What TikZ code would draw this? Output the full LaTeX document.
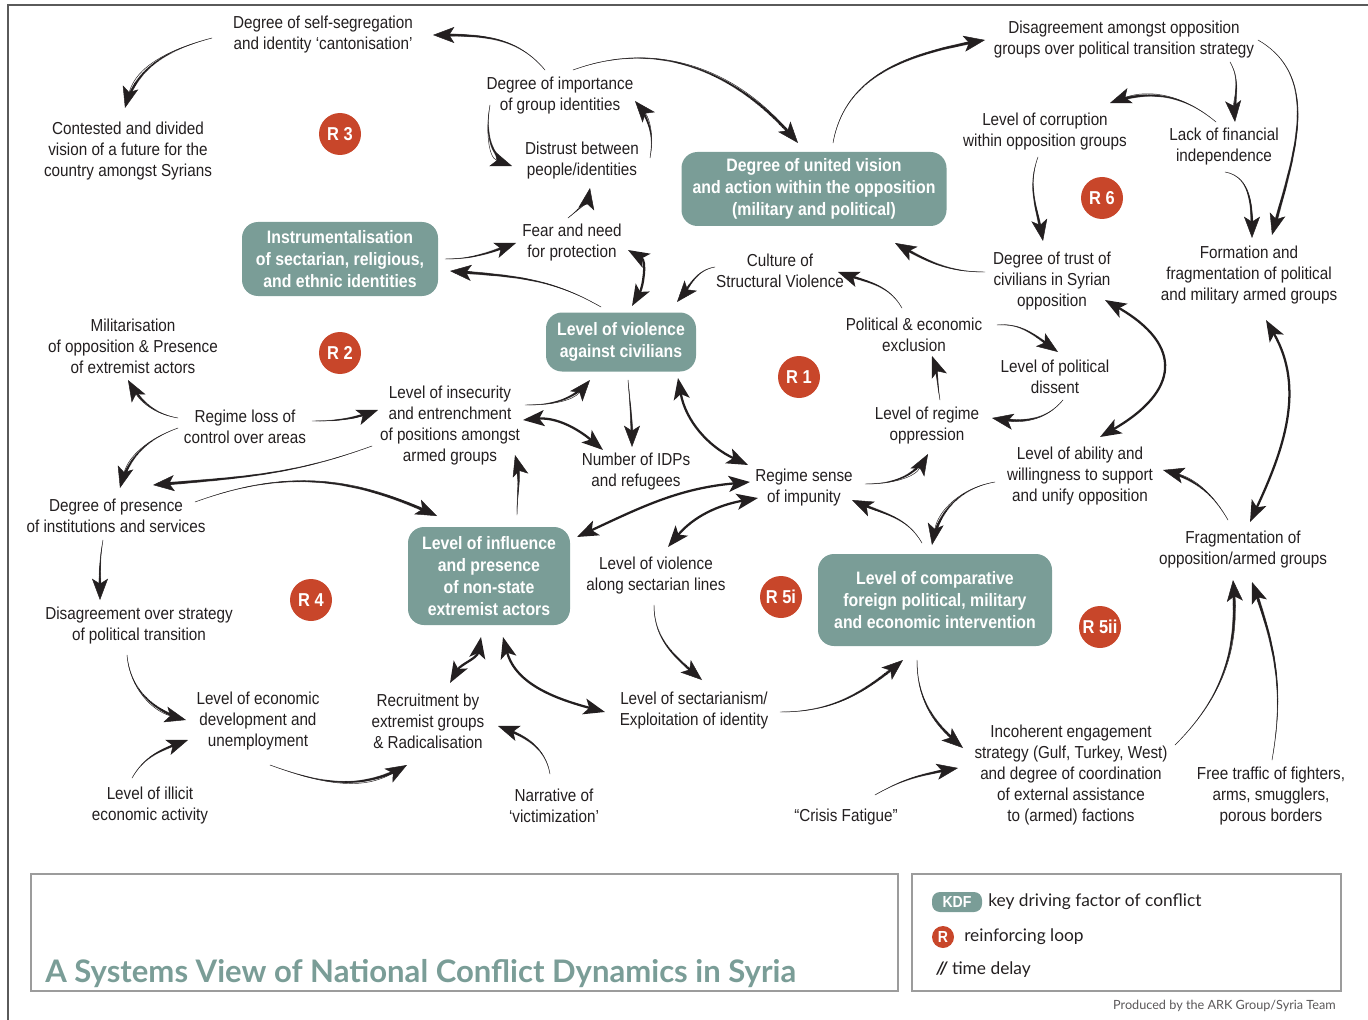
\documentclass[tikz,border=0pt]{standalone}
\usepackage{fontspec}
\setmainfont{Liberation Sans}[FakeStretch=0.88]
\newfontfamily\legfont{Lato}
\usetikzlibrary{arrows.meta,decorations.markings,calc}
\definecolor{kdf}{HTML}{7A9D97}
\definecolor{rred}{HTML}{C8462A}
\definecolor{ink}{HTML}{231F20}
\definecolor{boxgrey}{HTML}{9C9C9C}
\definecolor{framegrey}{HTML}{5A5A5A}
\newcommand\lblfont{\fontsize{13}{15.75}\selectfont}
\newcommand\kdffont{\fontsize{13.5}{16.5}\selectfont\bfseries}
\newcommand\rfont{\fontsize{14}{14}\selectfont\bfseries}
\tikzset{
  lbl/.style={align=center, font=\lblfont, text=ink, inner sep=1pt},
  kdfbox/.style={rounded corners=12pt, fill=kdf, text=white, align=center, font=\kdffont, inner sep=2pt},
  rloop/.style={circle, fill=rred, text=white, font=\rfont, minimum size=31.5pt, inner sep=0pt},
  arr/.style={draw=ink, line width=0.35pt, -{Stealth[length=16pt,width=12pt,inset=3.8pt]},
    postaction={decorate, decoration={markings,
      mark=between positions 0 and -7pt step 0.8pt with {
        \pgfmathsetmacro\taperr{0.15+1.2*\pgfkeysvalueof{/pgf/decoration/mark info/distance from start}/\pgfdecoratedpathlength}
        \fill[ink] (0,0) circle (\taperr pt);}}}},
  darr/.style={draw=ink, line width=1.7pt, {Stealth[length=16pt,width=12pt,inset=3.8pt]}-{Stealth[length=16pt,width=12pt,inset=3.8pt]}},
}
\begin{document}
\begin{tikzpicture}[x=0.75pt,y=-0.75pt]
\useasboundingbox (0,0) rectangle (1368,1020);
\draw[framegrey, line width=1.2pt] (1368,5) -- (8,5) -- (8,1020);
\draw[boxgrey, line width=1.5pt] (31,874) rectangle (898,991);
\draw[boxgrey, line width=1.5pt] (912,874) rectangle (1341,991);

% plain factors
\node[lbl] (selfseg) at (323,35) {Degree of self-segregation\\and identity ‘cantonisation’};
\node[lbl] (contested) at (128,151) {Contested and divided\\vision of a future for the\\country amongst Syrians};
\node[lbl] (importance) at (560,96) {Degree of importance\\of group identities};
\node[lbl] (distrust) at (582,161) {Distrust between\\people/identities};
\node[lbl] (fear) at (572,243) {Fear and need\\for protection};
\node[lbl] (disopp) at (1124,40) {Disagreement amongst opposition\\groups over political transition strategy};
\node[lbl] (corruption) at (1045,132) {Level of corruption\\within opposition groups};
\node[lbl] (lackfin) at (1224,147) {Lack of financial\\independence};
\node[lbl] (formation) at (1249,275) {Formation and\\fragmentation of political\\and military armed groups};
\node[lbl] (trust) at (1052,281) {Degree of trust of\\civilians in Syrian\\opposition};
\node[lbl] (culture) at (780,271) {Culture of\\Structural Violence};
\node[lbl] (militar) at (133,346) {Militarisation\\of opposition \& Presence\\of extremist actors};
\node[lbl] (polexcl) at (914,335) {Political \& economic\\exclusion};
\node[lbl] (dissent) at (1055,377) {Level of political\\dissent};
\node[lbl] (oppression) at (927,426) {Level of regime\\oppression};
\node[lbl] (regloss) at (245,427) {Regime loss of\\control over areas};
\node[lbl] (insecurity) at (450,426) {Level of insecurity\\and entrenchment\\of positions amongst\\armed groups};
\node[lbl] (idps) at (636,472) {Number of IDPs\\and refugees};
\node[lbl] (impunity) at (804,488) {Regime sense\\of impunity};
\node[lbl] (ability) at (1080,476) {Level of ability and\\willingness to support\\and unify opposition};
\node[lbl] (presence) at (116,516) {Degree of presence\\of institutions and services};
\node[lbl] (seclines) at (656,576) {Level of violence\\along sectarian lines};
\node[lbl] (fragmentation) at (1243,550) {Fragmentation of\\opposition/armed groups};
\node[lbl] (disstrat) at (139,626) {Disagreement over strategy\\of political transition};
\node[lbl] (econ) at (258,721) {Level of economic\\development and\\unemployment};
\node[lbl] (recruit) at (428,721) {Recruitment by\\extremist groups\\\& Radicalisation};
\node[lbl] (sectarianism) at (694,711) {Level of sectarianism/\\Exploitation of identity};
\node[lbl] (illicit) at (150,806) {Level of illicit\\economic activity};
\node[lbl] (narrative) at (554,806) {Narrative of\\‘victimization’};
\node[lbl] (crisis) at (846,817) {“Crisis Fatigue”};
\node[lbl] (incoherent) at (1071,775) {Incoherent engagement\\strategy (Gulf, Turkey, West)\\and degree of coordination\\of external assistance\\to (armed) factions};
\node[lbl] (freetraffic) at (1271,796) {Free traffic of fighters,\\arms, smugglers,\\porous borders};

% key driving factors
\node[kdfbox, minimum width=198.75pt, minimum height=55.5pt] (united) at (814,189) {Degree of united vision\\and action within the opposition\\(military and political)};
\node[kdfbox, minimum width=147pt, minimum height=55.5pt] (instrument) at (340,259) {Instrumentalisation\\of sectarian, religious,\\and ethnic identities};
\node[kdfbox, minimum width=112.5pt, minimum height=44.25pt] (violciv) at (621,342) {Level of violence\\against civilians};
\node[kdfbox, minimum width=121.5pt, minimum height=73.5pt] (influence) at (489,576) {Level of influence\\and presence\\of non-state\\extremist actors};
\node[kdfbox, minimum width=175.5pt, minimum height=69pt] (comparative) at (935,600) {Level of comparative\\foreign political, military\\and economic intervention};

% reinforcing loops
\node[rloop] (r3) at (340,134) {R 3};
\node[rloop] (r2) at (340,353) {R 2};
\node[rloop] (r1) at (799,377) {R 1};
\node[rloop] (r6) at (1102,198) {R 6};
\node[rloop] (r4) at (311,600) {R 4};
\node[rloop] (r5i) at (781,597) {R 5i};
\node[rloop] (r5ii) at (1100,627) {R 5ii};

% connectors
\draw[arr] ($(selfseg)+(-111,3)$) to[out=195,in=75] ($(contested)+(-3,-43)$);
\draw[arr] ($(importance)+(-15,-26)$) to[out=130,in=0] ($(selfseg)+(110,0)$);
\draw[arr] ($(importance)+(13,-26)$) to[out=20,in=130] ($(united)+(-16,-46)$);
\draw[arr] ($(importance)+(-70,9)$) to[out=260,in=160] ($(distrust)+(-70,5)$);
\draw[arr] ($(distrust)+(68,-3)$) to[out=80,in=-50] ($(importance)+(75,5)$);
\draw[arr] ($(fear)+(-4,-25)$) to[out=40,in=-100] ($(distrust)+(8,27)$);
\draw[arr] ($(instrument)+(105,0)$) to[out=0,in=200] ($(fear)+(-56,0)$);
\draw[arr] ($(violciv)+(-20,-35)$) to[out=150,in=-5] ($(instrument)+(110,12)$);
\draw[darr] ($(fear)+(56,7)$) to[out=-30,in=60] ($(violciv)+(11,-36)$);
\draw[arr] ($(culture)+(-65,-4)$) to[out=190,in=50] ($(violciv)+(56,-40)$);
\draw[arr] ($(polexcl)+(-12,-27)$) to[out=120,in=-20] ($(culture)+(58,1)$);
\draw[arr] ($(trust)+(-67,-9)$) to[out=180,in=-30] ($(united)+(81,54)$);
\draw[arr] ($(united)+(19,-46)$) to[out=80,in=190] ($(disopp)+(-139,0)$);
\draw[arr] ($(lackfin)+(-8,-25)$) to[out=140,in=20] ($(corruption)+(65,-29)$);
\draw[arr] ($(disopp)+(106,22)$) to[out=-60,in=95] ($(lackfin)+(11,-25)$);
\draw[arr] ($(disopp)+(134,0)$) to[out=-30,in=75] ($(formation)+(23,-40)$);
\draw[arr] ($(lackfin)+(1,25)$) to[out=-10,in=90] ($(formation)+(3,-37)$);
\draw[arr] ($(corruption)+(-7,25)$) to[out=250,in=100] ($(trust)+(-9,-40)$);
\draw[darr] ($(trust)+(53,19)$) to[out=-30,in=30,looseness=1.7] ($(ability)+(20,-39)$);
\draw[darr] ($(formation)+(17,45)$) to[out=-60,in=65] ($(fragmentation)+(7,-28)$);
\draw[arr] ($(fragmentation)+(-15,-30)$) to[out=120,in=-15] ($(ability)+(83,-6)$);
\draw[arr] ($(ability)+(-85,6)$) to[out=190,in=80] ($(comparative)+(-3,-55)$);
\draw[arr] ($(comparative)+(-13,-57)$) to[out=120,in=-25] ($(impunity)+(48,12)$);
\draw[arr] ($(impunity)+(61,-4)$) to[out=0,in=-120] ($(oppression)+(1,28)$);
\draw[arr] ($(oppression)+(13,-26)$) to[out=100,in=-70] ($(polexcl)+(18,21)$);
\draw[arr] ($(polexcl)+(83,-10)$) to[out=5,in=145] ($(dissent)+(3,-25)$);
\draw[arr] ($(dissent)+(8,23)$) to[out=230,in=-10] ($(oppression)+(65,-8)$);
\draw[arr] ($(insecurity)+(75,-21)$) to[out=0,in=-130] ($(violciv)+(-31,38)$);
\draw[darr] ($(insecurity)+(73,-6)$) to[out=5,in=140] ($(idps)+(-33,-22)$);
\draw[arr] ($(violciv)+(7,38)$) to[out=-85,in=90] ($(idps)+(-4,-25)$);
\draw[darr] ($(violciv)+(57,36)$) to[out=-80,in=155] ($(impunity)+(-56,-23)$);
\draw[darr] ($(influence)+(88,-39)$) to[out=25,in=185] ($(impunity)+(-54,-6)$);
\draw[darr] ($(seclines)+(12,-29)$) to[out=50,in=190] ($(impunity)+(-46,10)$);
\draw[arr] ($(regloss)+(-67,-9)$) to[out=170,in=-60] ($(militar)+(-5,34)$);
\draw[arr] ($(regloss)+(67,-6)$) to[out=0,in=200] ($(insecurity)+(-72,-16)$);
\draw[arr] ($(regloss)+(-67,1)$) to[out=200,in=75] ($(presence)+(4,-28)$);
\draw[arr] ($(insecurity)+(-78,20)$) to[out=200,in=5] ($(presence)+(37,-31)$);
\draw[arr] ($(presence)+(79,-14)$) to[out=20,in=155] ($(influence)+(-52,-60)$);
\draw[arr] ($(influence)+(28,-61)$) to[out=90,in=-75] ($(insecurity)+(65,29)$);
\draw[arr] ($(presence)+(-13,24)$) to[out=-100,in=90] ($(disstrat)+(-39,-26)$);
\draw[arr] ($(disstrat)+(-12,29)$) to[out=-85,in=165] ($(econ)+(-72,-1)$);
\draw[arr] ($(illicit)+(-18,-28)$) to[out=60,in=200] ($(econ)+(-70,19)$);
\draw[arr] ($(econ)+(12,44)$) to[out=-20,in=210] ($(recruit)+(-21,44)$);
\draw[darr] ($(influence)+(-8,61)$) to[out=-100,in=60] ($(recruit)+(22,-38)$);
\draw[darr] ($(influence)+(14,61)$) to[out=-75,in=165] ($(sectarianism)+(-89,1)$);
\draw[arr] ($(narrative)+(-4,-32)$) to[out=100,in=-20] ($(recruit)+(70,5)$);
\draw[arr] ($(seclines)+(-2,29)$) to[out=-90,in=140] ($(sectarianism)+(8,-31)$);
\draw[arr] ($(sectarianism)+(86,1)$) to[out=0,in=220] ($(comparative)+(-32,60)$);
\draw[arr] ($(comparative)+(-18,60)$) to[out=-90,in=140] ($(incoherent)+(-108,-27)$);
\draw[arr] ($(crisis)+(29,-22)$) to[out=30,in=190] ($(incoherent)+(-113,-7)$);
\draw[arr] ($(incoherent)+(104,-30)$) to[out=45,in=-85] ($(fragmentation)+(-10,30)$);
\draw[arr] ($(freetraffic)+(1,-36)$) to[out=80,in=-70] ($(fragmentation)+(9,32)$);

% title and legend
\node[anchor=base west, inner sep=0, text=kdf, font=\legfont\bfseries\fontsize{23.3}{24}\selectfont] (title) at (45,982) {A Systems View of National Conflict Dynamics in Syria};
\node[rounded corners=6pt, fill=kdf, text=white, font=\fontsize{12}{12}\selectfont\bfseries, minimum width=37.5pt, minimum height=15pt, inner sep=0] (kdfkey) at (957,902) {KDF};
\node[anchor=west, inner sep=0, text=ink, font=\legfont\fontsize{13}{13}\selectfont] (kdftext) at (988,902) {key driving factor of conflict};
\node[circle, fill=rred, text=white, font=\fontsize{12}{12}\selectfont\bfseries, minimum size=16.5pt, inner sep=0] (rkey) at (943,937) {R};
\node[anchor=west, inner sep=0, text=ink, font=\legfont\fontsize{13}{13}\selectfont] (rtext) at (964,937) {reinforcing loop};
\node[anchor=west, inner sep=0, text=ink, font=\legfont\fontsize{13}{13}\selectfont] (delay) at (936,970) {{\bfseries\itshape //} time delay};
\node[anchor=east, inner sep=0, text=ink!75, font=\legfont\fontsize{9.5}{9.5}\selectfont] (credit) at (1336,1006) {Produced by the ARK Group/Syria Team};
\end{tikzpicture}
\end{document}
